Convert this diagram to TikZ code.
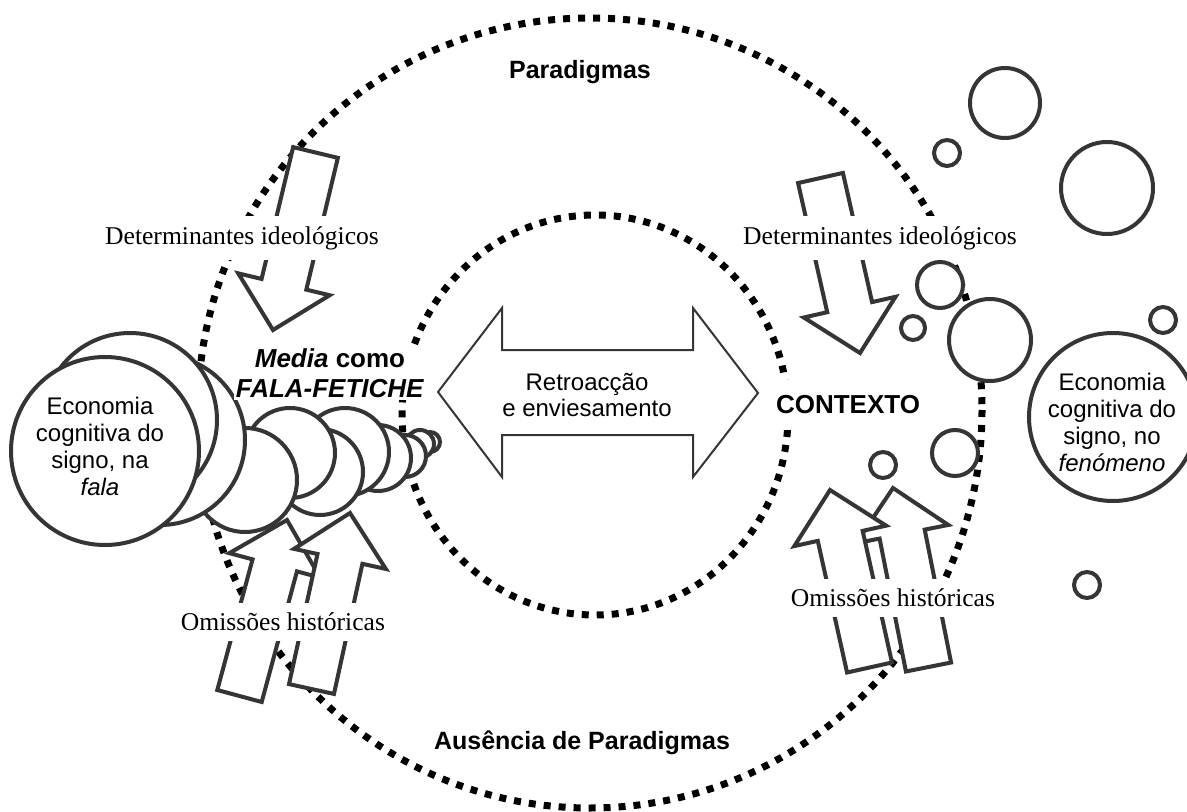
\documentclass[tikz,border=0pt]{standalone}
\usepackage{fontspec}
\setmainfont{Liberation Serif}
\setsansfont{Liberation Sans}
\usetikzlibrary{calc}
\definecolor{dk}{HTML}{353535}
\tikzset{
  dotline/.style={line width=3.5pt, dash pattern=on 3.5pt off 4pt, black},
  blk/.style={draw=dk, line width=2pt, fill=white, line join=miter},
  dblk/.style={draw=dk, line width=1pt, fill=white, line join=miter},
  bub/.style={draw=dk, line width=2pt, fill=white},
  lab/.style={fill=white, font=\fontsize{12.8}{15}\selectfont, inner xsep=2pt, inner ysep=5pt},
  slab/.style={font=\sffamily\fontsize{12}{13.5}\selectfont, align=center},
  sbold/.style={font=\sffamily\bfseries\fontsize{12.5}{15}\selectfont},
}
\newcommand\blkarrow[2]{%
  \coordinate (n#1) at ($(#2)!23.5pt!(#1)$);
  \draw[blk] ($(#1)!11.5pt!90:(#2)$) -- ($(n#1)!11.5pt!90:(#2)$) -- ($(n#1)!23.5pt!90:(#2)$)
    -- (#2) -- ($(n#1)!23.5pt!-90:(#2)$) -- ($(n#1)!11.5pt!-90:(#2)$) -- ($(#1)!11.5pt!-90:(#2)$) -- cycle;
}
\begin{document}
\begin{tikzpicture}[x=0.5pt,y=-0.5pt]
\useasboundingbox (0,0) rectangle (1187,812);
\fill[white] (0,0) rectangle (1187,812);
% dotted outlines
\draw[dotline] (982,410) arc[start angle=0,end angle=180,x radius=392,y radius=398]
  arc[start angle=180,end angle=360,x radius=392,y radius=392];
\draw[dotline] (595,415) ellipse[x radius=193,y radius=200];
% bubbles on the right
\foreach \cx/\cy/\r in {1005/103/35, 947/153/13, 1107/188/46, 940/285/23, 913/328/12,
  990/340/41, 1163/320/13, 883/465/13, 955/453/23, 1087/585/13, 1113/417/84}
  \draw[bub] (\cx,\cy) circle[radius=\r];
% block arrows
\coordinate (a1t) at (315.5,152.5); \coordinate (a1h) at (273,330);
\coordinate (a2t) at (820.5,178);   \coordinate (a2h) at (860,353);
\coordinate (l1t) at (239.5,696);   \coordinate (l1h) at (287,520);
\coordinate (l2t) at (311.5,689);   \coordinate (l2h) at (350,513);
\coordinate (r1t) at (869.5,667.5); \coordinate (r1h) at (830,490);
\coordinate (r2t) at (928.5,667);   \coordinate (r2h) at (893,488);
\blkarrow{a1t}{a1h}
\blkarrow{a2t}{a2h}
\blkarrow{l1t}{l1h}
\blkarrow{l2t}{l2h}
\blkarrow{r2t}{r2h}
\blkarrow{r1t}{r1h}
% double arrow
\draw[dblk] (438,392) -- (502,308) -- (502,350) -- (693,350) -- (693,308) -- (758,393)
  -- (693,477) -- (693,435) -- (502,435) -- (502,477) -- cycle;
% chain of circles on the left (back to front)
\foreach \cx/\cy/\r in {430/442/10, 420/444/14, 405/456/21, 378/458/33, 345/452/44,
  320/472/43, 290/453/45, 245/480/52, 160/440/85, 130/420/87, 105/451/94}
  \draw[bub] (\cx,\cy) circle[radius=\r];
% labels
\node[sbold] (par) at (580,72) {Paradigmas};
\node[sbold] (aus) at (582,743) {Ausência de Paradigmas};
\node[lab] (detL) at (242,238) {Determinantes ideológicos};
\node[lab] (detR) at (880,238) {Determinantes ideológicos};
\node[lab] (omiL) at (283,622) {Omissões históricas};
\node[lab] (omiR) at (893,598) {Omissões históricas};
\node[fill=white, font=\sffamily\bfseries\fontsize{13}{15}\selectfont, inner xsep=2pt, inner ysep=8pt] (ctx) at (848,405) {CONTEXTO};
\node[fill=white, align=center, font=\sffamily\bfseries\fontsize{13}{15}\selectfont, inner sep=1pt] (media) at (330,373) {\textit{Media} como\\\textit{FALA-FETICHE}};
\node[slab, font=\sffamily\fontsize{12}{13}\selectfont] (retro) at (587,395) {Retroacção\\e enviesamento};
\node[slab] (econL) at (100,446) {Economia\\cognitiva do\\signo, na\\\textit{fala}};
\node[slab] (econR) at (1112,422) {Economia\\cognitiva do\\signo, no\\\textit{fenómeno}};
\end{tikzpicture}
\end{document}
